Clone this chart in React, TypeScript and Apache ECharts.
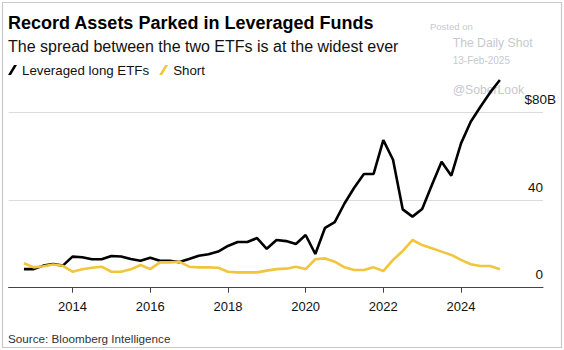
import React, { useEffect, useRef } from "react";
import * as echarts from "echarts";

const quarters = [
  "2012Q3", "2012Q4",
  "2013Q1", "2013Q2", "2013Q3", "2013Q4",
  "2014Q1", "2014Q2", "2014Q3", "2014Q4",
  "2015Q1", "2015Q2", "2015Q3", "2015Q4",
  "2016Q1", "2016Q2", "2016Q3", "2016Q4",
  "2017Q1", "2017Q2", "2017Q3", "2017Q4",
  "2018Q1", "2018Q2", "2018Q3", "2018Q4",
  "2019Q1", "2019Q2", "2019Q3", "2019Q4",
  "2020Q1", "2020Q2", "2020Q3", "2020Q4",
  "2021Q1", "2021Q2", "2021Q3", "2021Q4",
  "2022Q1", "2022Q2", "2022Q3", "2022Q4",
  "2023Q1", "2023Q2", "2023Q3", "2023Q4",
  "2024Q1", "2024Q2", "2024Q3", "2024Q4",
];

const longEtfs = [
  8.5, 8.5, 10.1, 10.8, 10.1, 14.2, 13.9, 13.0, 13.0, 14.5,
  14.3, 13.1, 12.3, 13.7, 12.3, 12.3, 11.7, 13.1, 14.6, 15.3,
  16.5, 19.1, 20.9, 20.9, 22.7, 17.8, 21.8, 21.3, 20.0, 24.1,
  15.4, 27.4, 30.0, 38.5, 45.7, 52.0, 52.0, 67.5, 58.5, 35.8,
  32.5, 36.0, 47.0, 57.6, 51.2, 66.0, 75.9, 82.7, 89.3, 95.0,
];

const shortEtfs = [
  11.2, 9.3, 9.8, 10.6, 10.0, 7.3, 8.4, 9.1, 9.6, 7.3,
  7.3, 8.4, 10.4, 8.5, 11.6, 11.6, 11.9, 9.6, 9.3, 9.3,
  9.1, 7.3, 7.0, 7.0, 7.0, 7.8, 8.5, 8.7, 9.6, 8.5,
  13.0, 13.4, 11.9, 9.3, 8.1, 8.1, 9.3, 7.6, 12.7, 16.8,
  21.8, 19.5, 18.0, 16.5, 15.0, 12.7, 10.7, 9.9, 9.9, 8.4,
];

const yearTicks = [2014, 2016, 2018, 2020, 2022, 2024];
const valueTicks = [0, 40, 80];

const FONT = "'Liberation Sans', Arial, Helvetica, sans-serif";

function quarterEnd(q: string): number {
  const y = Number(q.slice(0, 4));
  const n = Number(q.slice(5));
  return y + n / 4;
}

export default function App() {
  const ref = useRef<HTMLDivElement>(null);

  useEffect(() => {
    if (!ref.current) return;
    const chart = echarts.init(ref.current, undefined, { renderer: "svg" });
    const xs = quarters.map(quarterEnd);
    const longData = xs.map((x, i) => [x, longEtfs[i]]);
    const shortData = xs.map((x, i) => [x, shortEtfs[i]]);
    const wm = "#c5c9cf";

    chart.setOption({
      animation: false,
      backgroundColor: "#ffffff",
      textStyle: { fontFamily: FONT },
      grid: { left: 8.6, right: 21, top: 69, bottom: 62.3, containLabel: false },
      legend: {
        left: 8,
        top: 63.5,
        padding: 0,
        itemGap: 10,
        itemWidth: 9,
        itemHeight: 10,
        icon: "path://M0,10 L3,10 L9,0 L6,0 Z",
        textStyle: { fontFamily: FONT, fontSize: 13.3, color: "#111" },
        data: ["Leveraged long ETFs", "Short"],
      },
      xAxis: {
        type: "value",
        min: 2012.355,
        max: 2026.11,
        axisLine: { show: true, lineStyle: { color: "#444", width: 1 } },
        axisTick: {
          show: true,
          customValues: yearTicks,
          length: 5,
          lineStyle: { color: "#444", width: 1 },
        },
        axisLabel: {
          customValues: yearTicks,
          formatter: (v: number) => String(Math.round(v)),
          fontFamily: FONT,
          fontSize: 13,
          color: "#111",
          margin: 12,
        },
        splitLine: { show: false },
      },
      yAxis: {
        type: "value",
        position: "right",
        min: 0,
        max: 100,
        axisLine: { show: false },
        axisTick: { show: false, customValues: valueTicks },
        axisLabel: {
          customValues: valueTicks,
          margin: 13,
          align: "right",
          verticalAlign: "bottom",
          padding: [0, 0, 6, 0],
          formatter: (v: number) => (v === 80 ? "{a|$80B}" : "{b|" + v + "}"),
          rich: {
            a: { fontFamily: FONT, fontSize: 13.5, color: "#111" },
            b: { fontFamily: FONT, fontSize: 13.5, color: "#111", padding: [0, 13, 0, 0] },
          },
        },
        splitLine: { show: true, lineStyle: { color: "#dcdcdc", width: 1 } },
      },
      series: [
        {
          name: "Leveraged long ETFs",
          type: "line",
          data: longData,
          showSymbol: false,
          symbol: "none",
          color: "#000000",
          lineStyle: { color: "#000000", width: 2.6 },
          z: 3,
        },
        {
          name: "Short",
          type: "line",
          data: shortData,
          showSymbol: false,
          symbol: "none",
          color: "#f2c53d",
          lineStyle: { color: "#f2c53d", width: 2.6 },
          z: 4,
        },
      ],
      graphic: [
        {
          type: "rect",
          shape: { x: 2.5, y: 2.5, width: 559, height: 345 },
          style: { fill: "none", stroke: "#c8c8c8", lineWidth: 1.2 },
          silent: true,
          z: 0,
        },
        {
          type: "text",
          x: 8,
          y: 23,
          style: {
            text: "Record Assets Parked in Leveraged Funds",
            font: "bold 18px " + FONT,
            fill: "#000",
            verticalAlign: "middle",
          },
        },
        {
          type: "text",
          x: 8,
          y: 46.5,
          style: {
            text: "The spread between the two ETFs is at the widest ever",
            font: "16px " + FONT,
            fill: "#111",
            verticalAlign: "middle",
          },
        },
        {
          type: "text",
          x: 8,
          y: 338,
          style: {
            text: "Source: Bloomberg Intelligence",
            font: "11.7px " + FONT,
            fill: "#333",
            verticalAlign: "middle",
          },
        },
        {
          type: "text",
          x: 430,
          y: 26.7,
          style: { text: "Posted on", font: "9.5px " + FONT, fill: wm, verticalAlign: "middle" },
          z: 0,
        },
        {
          type: "text",
          x: 452.7,
          y: 42.7,
          style: { text: "The Daily Shot", font: "12.2px " + FONT, fill: wm, verticalAlign: "middle" },
          z: 0,
        },
        {
          type: "text",
          x: 452.7,
          y: 60.7,
          style: { text: "13-Feb-2025", font: "10px " + FONT, fill: wm, verticalAlign: "middle" },
          z: 0,
        },
        {
          type: "text",
          x: 452.7,
          y: 90,
          style: { text: "@SoberLook", font: "12.2px " + FONT, fill: wm, verticalAlign: "middle" },
          z: 0,
        },
      ],
    });

    return () => chart.dispose();
  }, []);

  return (
    <div
      ref={ref}
      style={{ position: "fixed", left: 0, top: 0, width: 564, height: 350, background: "#fff" }}
    />
  );
}
